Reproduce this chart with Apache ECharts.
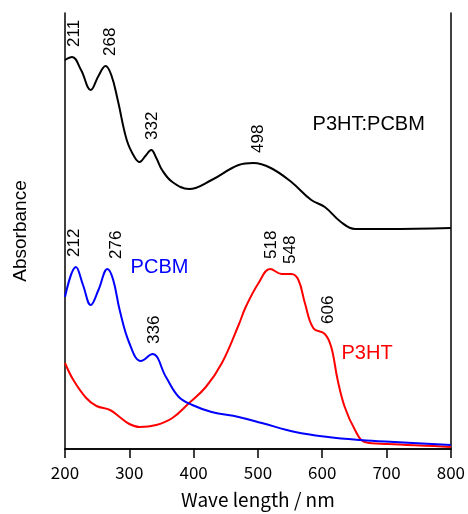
<!DOCTYPE html>
<html>
<head>
<meta charset="utf-8">
<script src="https://cdn.jsdelivr.net/npm/echarts@6/dist/echarts.min.js"></script>
<style>
  html, body { margin: 0; padding: 0; background: #fff; }
  #chart { width: 468px; height: 514px; }
</style>
</head>
<body>
<div id="chart"></div>
<script>
// absorbance spectra, arbitrary units (curves offset for clarity)
const blendWave = [200, 211, 225, 240, 252, 263, 272, 282, 296, 308, 316, 325, 334, 342, 351, 367, 393, 428, 470, 493, 520, 552, 583, 604, 629, 651, 700, 800];
const blendAbs  = [389, 392, 379, 359, 373, 383, 374, 349, 309, 292, 287, 293, 299, 291, 279, 267, 260, 269, 284, 286, 281, 267, 249, 242, 227, 220, 220, 221];

const pcbmWave = [200, 217, 228, 240, 252, 266, 275, 285, 300, 318, 336, 357, 377, 398, 428, 470, 506, 558, 609, 660, 712, 800];
const pcbmAbs  = [152, 182, 164, 144, 159, 180, 169, 139, 106, 88, 95, 72, 52, 44, 37, 32, 26, 17, 12, 9, 7, 4];

const p3htWave = [200, 213, 233, 249, 270, 285, 300, 316, 342, 367, 393, 419, 444, 470, 481, 501, 519, 537, 552, 563, 573, 586, 604, 614, 624, 635, 651, 666, 702, 774, 800];
const p3htAbs  = [86, 69, 51, 43, 39, 32, 25, 22, 24, 31, 46, 62, 86, 124, 142, 166, 180, 175, 175, 169, 146, 121, 115, 102, 69, 42, 19, 7, 5, 3, 2];

// peak annotations: [label wavelength, absorbance at peak]
const blendPeaks = [[211, 392], [268, 383], [332, 299], [498, 286]];
const pcbmPeaks  = [[212, 182], [276, 180], [336, 95]];
const p3htPeaks  = [[518, 180], [548, 175], [606, 115]];

const xTicks = [200, 300, 400, 500, 600, 700, 800];

const zip = (xs, ys) => xs.map((x, i) => [x, ys[i]]);

const chart = echarts.init(document.getElementById('chart'));

const gothic = '"Noto Sans CJK JP", "DejaVu Sans", sans-serif';
const arial = '"Liberation Sans", Arial, sans-serif';

function line(name, wave, abs, color) {
    return {
        name, type: 'line', data: zip(wave, abs),
        smooth: 0.4, showSymbol: false,
        lineStyle: { color, width: 2 }, z: 3,
    };
}

chart.setOption({
    animation: false,
    grid: { left: 65, right: 14, top: 13, bottom: 65 },
    xAxis: [{
        type: 'value', min: xTicks[0], max: xTicks[xTicks.length - 1], interval: 100,
        name: 'Wave length / nm', nameLocation: 'middle', nameGap: 41,
        nameTextStyle: { fontFamily: gothic, fontSize: 19, color: '#000' },
        axisLine: { lineStyle: { color: '#000', width: 1.5 } },
        axisTick: { inside: false, length: 9, lineStyle: { color: '#000', width: 1.5 } },
        axisLabel: { margin: 15, fontFamily: gothic, fontSize: 17, color: '#000' },
        splitLine: { show: false },
    }, {
        type: 'value', position: 'top', min: 200, max: 800,
        axisLine: { show: true, lineStyle: { color: '#000', width: 1.5 } },
        axisTick: { show: false }, axisLabel: { show: false }, splitLine: { show: false },
    }],
    yAxis: [{
        type: 'value', min: 0, max: 436,
        name: 'Absorbance', nameLocation: 'middle', nameGap: 35, nameRotate: 90,
        nameTextStyle: { fontFamily: arial, fontSize: 19, color: '#000' },
        axisLine: { show: true, lineStyle: { color: '#000', width: 1.5 } },
        axisTick: { show: false }, axisLabel: { show: false }, splitLine: { show: false },
    }, {
        type: 'value', position: 'right', min: 0, max: 436,
        axisLine: { show: true, lineStyle: { color: '#000', width: 1.5 } },
        axisTick: { show: false }, axisLabel: { show: false }, splitLine: { show: false },
    }],
    series: [
        line('P3HT:PCBM', blendWave, blendAbs, '#000'),
        line('P3HT', p3htWave, p3htAbs, '#ff0000'),
        line('PCBM', pcbmWave, pcbmAbs, '#0000ff'),
    ],
});

// annotations placed through the axes
const toPx = (p) => chart.convertToPixel({ xAxisIndex: 0, yAxisIndex: 0 }, p);
const graphics = [];
function peakLabels(peaks) {
    peaks.forEach(([wl, abs]) => {
        const [px, py] = toPx([wl, abs]);
        graphics.push({
            type: 'text', x: px + 2, y: py - 10, rotation: Math.PI / 2,
            style: { text: String(wl), font: '17px ' + arial, fill: '#000',
                     textAlign: 'left', textVerticalAlign: 'middle' },
        });
    });
}
peakLabels(blendPeaks);
peakLabels(pcbmPeaks);
peakLabels(p3htPeaks);

function nameLabel(text, at, color) {
    const [px, py] = toPx(at);
    graphics.push({
        type: 'text', x: px, y: py,
        style: { text, font: '20px ' + arial, fill: color, textAlign: 'left', textVerticalAlign: 'middle' },
    });
}
nameLabel('P3HT:PCBM', [585, 325], '#000');
nameLabel('PCBM', [302, 182], '#0000ff');
nameLabel('P3HT', [630, 96], '#ff0000');

chart.setOption({ graphic: graphics });
</script>
</body>
</html>
